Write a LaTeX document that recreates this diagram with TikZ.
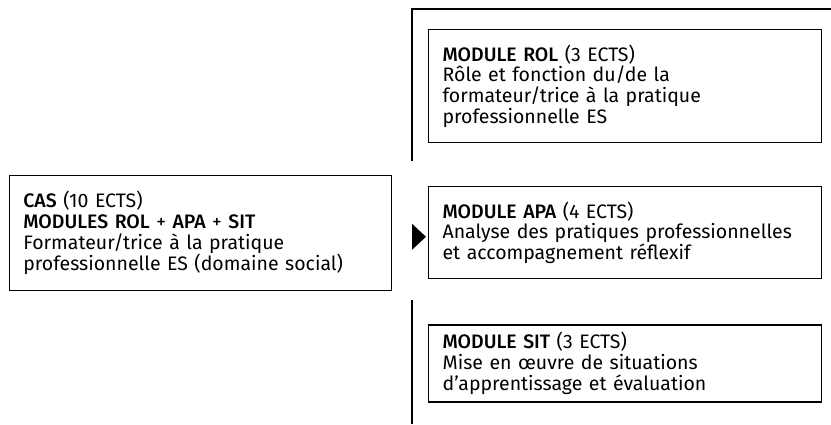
\documentclass[tikz,border=0pt]{standalone}
\usepackage{fontspec}
\setmainfont{Fira Sans}[BoldFont={Fira Sans Medium}]
\usepackage{tikz}
\usetikzlibrary{positioning}
\tikzstyle{modbox} = [draw=black, line width=1.2pt, rectangle, align=left,
    inner xsep=14pt, inner ysep=6pt, font=\fontsize{19.5}{20.8}\selectfont]
\tikzstyle{bracket} = [draw=black, line width=1.3pt]

\begin{document}
\begin{tikzpicture}[x=1pt,y=1pt]
\useasboundingbox (0,0) rectangle (831,424);
\node [modbox, anchor=north west, text width=365pt, minimum height=113pt] (rol) at (428,395) {
    \textbf{MODULE ROL} (3 ECTS)\\
    Rôle et fonction du/de la\\
    formateur/trice à la pratique\\
    professionnelle ES};
\node [modbox, below=43pt of rol, text width=365pt, minimum height=92pt] (apa) {
    \textbf{MODULE APA} (4 ECTS)\\
    Analyse des pratiques professionnelles\\
    et accompagnement réflexif};
\node [modbox, below=45pt of apa, text width=365pt, minimum height=77pt] (sit) {
    \textbf{MODULE SIT} (3 ECTS)\\
    Mise en œuvre de situations\\
    d'apprentissage et évaluation};
\node [modbox, left=36pt of apa, text width=354pt, minimum height=115pt] (cas) {
    \textbf{CAS} (10 ECTS)\\
    \textbf{MODULES ROL} + \textbf{APA} + \textbf{SIT}\\
    Formateur/trice à la pratique\\
    professionnelle ES (domaine social)};
% bracket round the modules
\coordinate (br) at ([shift={(-16pt,20pt)}]rol.north west);
\draw [bracket] (br -| 831,0) -- (br) -- ([shift={(-16pt,-18pt)}]rol.south west);
\draw [bracket] ([shift={(-16pt,-21pt)}]apa.south west) -- ([xshift=-16pt]apa.south west |- 0,0);
% arrow head
\fill ([shift={(-16pt,9pt)}]apa.west) -- ([shift={(-16pt,-17pt)}]apa.west)
    -- ([shift={(-2pt,-4pt)}]apa.west) -- cycle;
\end{tikzpicture}
\end{document}
